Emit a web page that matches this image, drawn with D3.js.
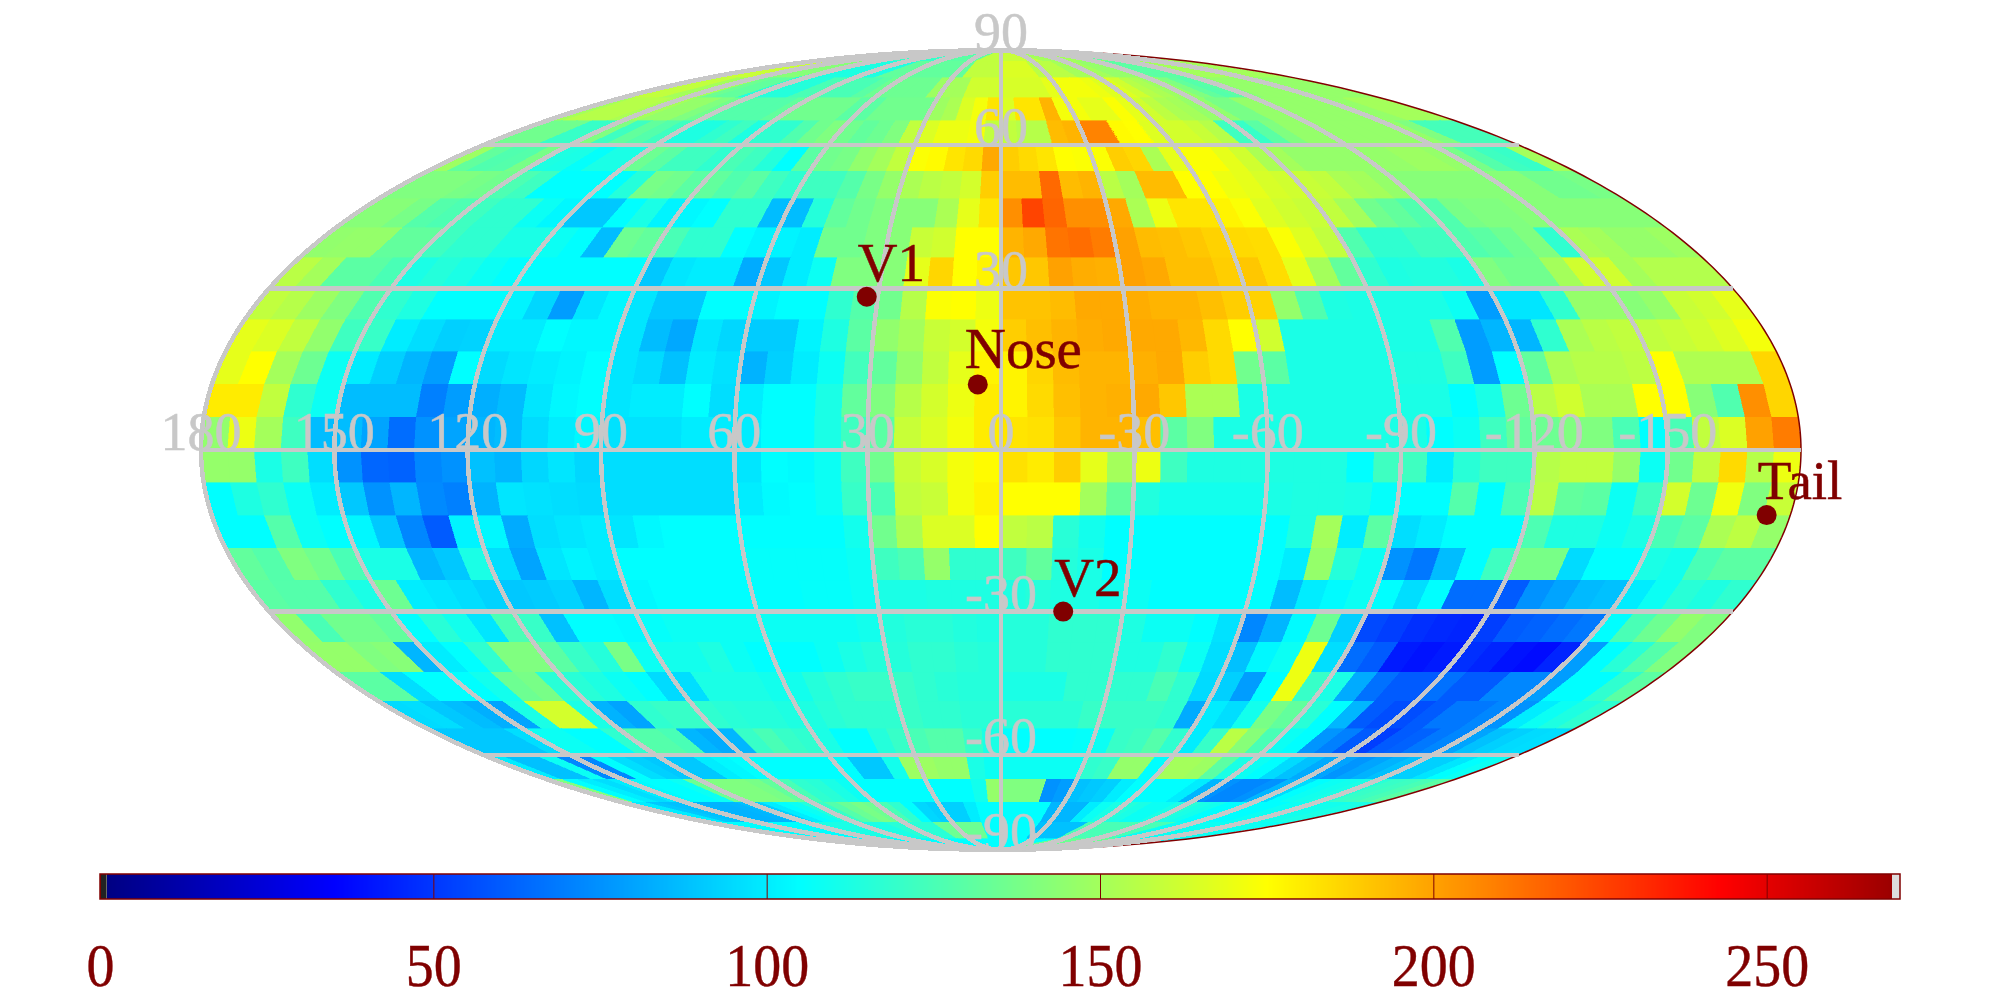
<!DOCTYPE html>
<html><head><meta charset="utf-8">
<script src="https://cdn.jsdelivr.net/npm/d3@7"></script>
<style>html,body{margin:0;padding:0;background:#fff}svg{display:block}text{font-family:"Liberation Serif",serif}</style>
</head><body><svg id="c" width="2000" height="1000"></svg>
<script>
// Sky-map values: one row per 6 deg latitude band, 60 columns from lon 180 to lon -180.
const n87=[148,148,148,148,120,120,120,120,120,120,120,120,120,120,120,120,120,120,120,120,130,130,130,130,130,130,158,158,158,158,160,160,160,160,160,160,160,150,150,150,150,150,150,150,150,150,150,150,132,132,132,132,132,132,132,132,150,150,150,150];
const n81=[160,160,160,160,160,142,142,142,142,113,113,113,113,113,113,113,113,132,132,132,132,132,132,132,132,132,158,158,158,158,165,165,165,165,156,156,156,156,150,150,150,150,146,146,146,146,130,130,130,130,130,150,150,150,150,150,150,150,150,150];
const n75=[158,158,158,150,150,150,135,132,132,115,115,115,115,125,125,125,125,125,130,135,135,135,135,135,148,150,150,162,162,162,164,164,164,164,168,172,172,172,170,166,166,162,155,152,148,146,140,132,128,130,142,146,146,146,146,146,146,146,146,146];
const n69=[150,155,155,155,152,150,146,146,140,136,128,128,128,128,132,136,136,136,136,130,130,136,136,136,136,148,152,165,172,182,165,182,182,195,172,172,168,168,174,168,162,157,152,150,146,145,138,138,146,146,146,146,146,146,146,146,146,150,150,150];
const n63=[136,136,136,120,120,140,122,132,128,122,113,113,118,122,113,118,118,127,136,140,136,132,135,140,158,165,170,170,172,158,158,155,155,193,195,208,208,176,175,166,163,163,160,155,122,120,130,140,146,146,146,146,146,146,146,146,140,124,124,124];
const n57=[148,132,127,128,138,113,112,106,112,112,135,130,122,122,118,125,122,115,105,130,136,138,145,150,158,174,176,182,185,198,188,185,182,175,174,174,188,186,152,168,174,174,168,162,152,150,146,146,146,146,146,146,148,148,146,138,128,122,120,150];
const n51=[140,140,140,138,136,126,122,105,105,105,105,115,138,136,130,132,127,130,122,118,122,122,128,138,146,152,156,158,163,188,193,193,215,193,195,156,150,193,193,175,175,170,168,164,162,160,158,152,150,146,142,142,142,142,142,142,142,136,136,138];
const n45=[142,142,138,128,126,122,118,118,108,103,90,90,105,112,102,103,105,118,118,87,87,115,132,136,140,142,142,152,168,182,205,225,216,205,205,198,152,170,182,182,178,174,166,162,160,158,150,136,132,127,127,138,140,140,142,142,142,142,142,142];
const n39=[145,146,146,132,132,122,118,118,112,112,108,105,87,135,132,125,118,118,105,102,102,100,136,136,140,142,160,162,175,175,195,198,212,214,210,200,193,192,190,187,185,184,174,166,158,127,118,118,122,122,127,130,135,140,118,152,150,146,146,148];
const n33=[156,150,130,130,125,112,115,112,108,105,105,105,105,105,105,90,98,100,100,82,90,100,108,140,140,142,168,186,175,178,190,190,200,197,196,200,198,192,192,188,190,184,168,150,132,118,113,114,114,112,140,136,136,150,162,162,150,154,154,154];
const n27=[158,155,148,140,127,118,113,105,105,105,102,94,78,98,103,98,90,90,105,105,102,105,105,118,128,136,155,174,175,170,191,191,193,198,198,197,195,195,192,188,187,146,127,113,112,112,112,112,108,78,98,98,118,146,146,142,146,160,162,168];
const n21=[168,165,158,145,122,120,100,96,92,93,100,100,105,103,103,98,87,81,98,94,91,91,102,113,130,145,150,160,163,172,188,192,195,197,198,198,198,194,185,175,162,112,112,112,112,112,112,127,78,85,85,118,152,156,158,158,160,162,166,172];
const n15=[168,175,150,135,108,100,92,85,78,105,95,98,100,102,105,98,95,88,100,97,84,92,100,108,123,132,146,158,168,178,178,186,193,195,195,196,198,188,185,136,130,112,112,112,112,113,113,122,78,105,132,152,155,155,157,175,153,153,153,186];
const n09=[180,180,158,118,108,87,87,87,70,78,83,87,98,103,105,98,100,100,105,96,100,105,105,112,132,140,155,163,170,180,178,185,192,195,196,198,190,152,152,112,112,112,112,112,112,112,112,105,112,135,156,162,152,152,175,175,142,127,205,186];
const n03=[145,170,150,122,87,87,80,65,75,80,85,87,95,100,103,97,97,97,100,100,100,105,105,112,122,130,160,165,172,180,182,183,190,195,195,192,130,140,112,112,112,112,112,112,112,112,105,108,122,132,135,140,140,125,105,125,158,165,200,210];
const s03=[146,146,112,122,96,75,63,62,72,75,88,85,94,98,94,96,96,96,96,96,98,105,104,108,122,136,160,164,172,176,183,180,188,168,150,170,122,113,113,113,113,113,113,105,122,122,100,116,122,122,155,158,158,146,108,136,158,185,155,170];
const s09=[105,113,118,108,100,90,75,85,73,70,84,98,97,96,95,96,96,96,96,96,100,104,105,108,120,125,158,160,172,178,175,175,175,150,132,114,110,110,110,110,112,113,113,112,106,105,105,128,105,125,156,132,130,108,122,163,135,171,140,160];
const s15=[105,105,128,108,105,103,90,72,60,102,103,82,96,98,100,98,103,105,105,105,105,105,105,105,110,136,152,165,165,175,158,156,116,110,105,105,105,105,105,105,105,113,150,100,130,96,100,105,105,105,126,113,113,108,112,125,130,152,157,146];
const s21=[132,128,140,136,125,112,112,85,90,112,96,80,98,102,100,105,105,105,105,105,106,106,106,106,108,122,126,146,118,118,122,132,115,112,105,105,105,105,105,105,105,100,146,115,108,75,68,87,105,122,138,138,95,105,105,112,110,125,130,130];
const s27=[130,128,128,118,112,135,100,98,96,93,90,91,93,85,96,103,105,105,105,105,105,105,106,106,108,112,112,113,113,113,113,115,113,112,110,108,105,105,105,105,105,87,100,104,108,105,96,105,65,65,60,75,80,86,88,100,108,116,113,118];
const s33=[145,125,136,136,132,105,116,110,98,125,120,88,105,105,104,106,108,108,108,108,108,108,108,108,110,114,116,116,114,113,115,115,118,118,118,113,108,108,105,97,72,85,104,135,92,55,52,48,46,45,52,60,62,65,68,105,125,135,145,140];
const s39=[146,146,140,142,85,100,105,118,140,140,130,120,115,138,108,110,110,113,108,105,105,105,108,112,115,115,118,118,116,115,115,115,118,118,118,113,113,118,108,96,88,103,108,170,96,65,60,42,40,42,48,45,40,38,45,78,105,116,128,140];
const s45=[130,130,96,105,105,105,110,135,138,116,116,113,108,105,95,96,112,112,112,110,110,115,118,120,120,120,118,116,115,115,112,112,112,118,118,118,118,125,118,95,92,78,105,170,120,112,82,66,60,60,66,60,60,72,72,78,105,105,118,130];
const s51=[95,96,90,87,83,80,112,163,163,112,84,80,118,120,120,118,116,115,115,113,113,116,118,118,118,120,118,118,116,116,116,116,116,116,120,120,120,120,118,82,100,96,110,138,132,116,105,85,60,56,56,60,68,68,72,75,100,108,113,118];
const s57=[90,90,90,90,96,108,108,105,105,118,128,128,125,85,82,85,120,125,120,118,112,105,105,115,120,125,128,128,120,112,105,105,105,105,106,108,120,122,128,118,100,120,156,142,125,108,105,76,70,60,52,60,62,68,72,80,88,92,95,96];
const s63=[100,88,88,108,72,72,105,96,92,90,90,90,100,103,105,105,105,105,105,105,105,90,90,110,148,148,146,146,112,108,108,108,108,108,108,118,120,146,146,105,150,150,148,130,112,108,105,95,88,82,80,76,80,84,88,92,92,98,105,108];
const s69=[140,105,100,96,100,104,105,105,108,135,140,140,140,138,132,125,118,116,112,108,105,105,105,105,105,105,105,105,110,146,140,140,140,75,78,88,90,92,100,105,105,105,105,100,85,75,72,72,75,85,95,105,108,110,112,116,120,122,125,130];
const s75=[100,100,90,88,88,85,84,84,85,88,92,100,105,108,115,120,128,134,138,135,125,118,105,94,92,92,92,100,105,105,105,105,105,105,85,85,85,100,108,112,115,112,108,108,112,116,112,110,105,105,105,105,105,108,108,108,110,110,112,112];
const s81=[105,105,105,105,105,105,105,105,105,105,112,112,112,112,112,112,112,112,116,116,116,116,116,135,135,135,135,135,105,105,105,105,105,105,88,88,88,88,88,125,125,125,125,125,125,125,125,125,108,108,108,108,108,108,108,108,108,108,108,108];
const s87=[105,105,105,105,105,105,105,105,105,105,105,105,105,105,105,105,105,105,105,105,105,105,105,105,105,105,105,105,105,105,105,105,105,105,105,105,105,105,105,135,135,135,135,135,135,135,135,135,135,135,135,105,105,105,105,105,105,105,105,105];
const rows=[n87,n81,n75,n69,n63,n57,n51,n45,n39,n33,n27,n21,n15,n09,n03,s03,s09,s15,s21,s27,s33,s39,s45,s51,s57,s63,s69,s75,s81,s87];

const meridians=[180,150,120,90,60,30,0,-30,-60,-90,-120,-150];
const parallels=[60,30,0,-30,-60];
const latLabels=[90,60,30,-30,-60,-90];
const lonLabels=[180,150,120,90,60,30,0,-30,-60,-90,-120,-150];
const barTicks=[0,50,100,150,200,250];
const markerNames=["V1","Nose","V2","Tail"];
const markerLon=[32.7,5.3,-15.3,-174.6];
const markerLat=[28.4,12,-30,-11.9];

// Mollweide raw projection for d3.geoProjection
function mollweideRaw(l,p){
  let t=p; const target=Math.PI*Math.sin(p);
  if(Math.abs(Math.abs(p)-Math.PI/2)>=1e-9)
    for(let i=0;i<50;i++){const d=(2*t+Math.sin(2*t)-target)/(2+2*Math.cos(2*t));t-=d;if(Math.abs(d)<1e-9)break;}
  return [2*Math.SQRT2/Math.PI*l*Math.cos(t),Math.SQRT2*Math.sin(t)];
}
const proj=d3.geoProjection(mollweideRaw).scale(400/Math.SQRT2).translate([1001,450]).precision(0.1);
const P=(lon,lat)=>proj([-lon,lat]); // longitude runs from +180 on the left to -180 on the right

const color=d3.scaleLinear().domain([0,35,105,175,243,276])
  .range(["#00007f","#0000ff","#00ffff","#ffff00","#ff0000","#7f0000"]).clamp(true);
const svg=d3.select("#c");
const line=d3.line();

// cells
const cells=[];
rows.forEach((r,ri)=>r.forEach((v,ci)=>cells.push({lat0:90-6*ri,lat1:84-6*ri,lon0:180-6*ci,lon1:174-6*ci,v})));
svg.append("g").attr("shape-rendering","crispEdges").selectAll("path").data(cells).join("path")
  .attr("d",c=>line([P(c.lon0,c.lat0),P(c.lon1,c.lat0),P(c.lon1,c.lat1),P(c.lon0,c.lat1)])+"Z")
  .attr("fill",c=>color(c.v)).attr("stroke",c=>color(c.v)).attr("stroke-width",0.6);

// outline
const lats=d3.range(-90,90.01,1);
svg.append("path").attr("d",line(lats.map(a=>P(-180,a)))).attr("fill","none").attr("stroke","#800000").attr("stroke-width",1.5);

// grid
const grid=svg.append("g").attr("fill","none").attr("stroke","#c8c8c8").attr("stroke-width",4.5).attr("shape-rendering","crispEdges");
grid.selectAll("path.m").data(meridians).join("path").attr("class","m")
  .attr("d",m=>line(lats.map(a=>P(m,a))));
grid.selectAll("path.p").data(parallels).join("path").attr("class","p")
  .attr("d",a=>line([P(180,a),P(-180,a)]));

// grid labels
const lab=svg.append("g").attr("fill","#c8c8c8").attr("stroke","#c8c8c8").attr("stroke-width",0.5).attr("font-size",54).attr("text-anchor","middle");
lab.selectAll("text.lo").data(lonLabels).join("text").attr("class","lo")
  .attr("x",d=>P(d,0)[0]).attr("y",P(0,0)[1]).text(d=>d);
lab.selectAll("text.la").data(latLabels).join("text").attr("class","la")
  .attr("x",P(0,0)[0]).attr("y",d=>P(0,d)[1]).text(d=>d);

// markers
const mk=svg.append("g");
const mdata=markerNames.map((n,i)=>({n,lon:markerLon[i],lat:markerLat[i]}));
mk.selectAll("circle").data(mdata).join("circle")
  .attr("cx",d=>P(d.lon,d.lat)[0]).attr("cy",d=>P(d.lon,d.lat)[1]).attr("r",10).attr("fill","#800000");
mk.selectAll("text").data(mdata).join("text")
  .attr("x",d=>P(d.lon,d.lat)[0]-(d.n==="Nose"?13:9)).attr("y",d=>P(d.lon,d.lat)[1]-16)
  .attr("font-size",d=>d.n==="Nose"?57:55).attr("fill","#800000").attr("stroke","#800000").attr("stroke-width",0.5).text(d=>d.n);

// colour bar
const bx=d3.scaleLinear().domain([0,270]).range([100,1900]);
const bar=svg.append("g");
bar.selectAll("rect").data(d3.range(1,268.8,0.2)).join("rect").attr("shape-rendering","crispEdges")
  .attr("x",v=>bx(v)).attr("y",874).attr("width",2).attr("height",25).attr("fill",v=>color(v));
bar.append("rect").attr("x",bx(0)).attr("y",874).attr("width",bx(1)-bx(0)).attr("height",25).attr("fill","#222");
bar.append("rect").attr("x",bx(268.8)).attr("y",874).attr("width",bx(270)-bx(268.8)).attr("height",25).attr("fill","#ddd");
bar.append("rect").attr("x",100).attr("y",874).attr("width",1800).attr("height",25).attr("fill","none").attr("stroke","#800000").attr("stroke-width",1.5);
const ax=svg.append("g").attr("transform","translate(0,899)")
  .call(d3.axisBottom(bx).tickValues(barTicks).tickSizeInner(-25).tickSizeOuter(0).tickFormat(d3.format("d")));
ax.select(".domain").remove();
ax.selectAll("line").attr("stroke","#800000").attr("stroke-width",1);
ax.selectAll("text").attr("y",0).attr("dy",0).attr("transform","translate(0,87) scale(1,1.08)")
  .attr("font-size",56).attr("fill","#800000").attr("stroke","#800000").attr("stroke-width",0.4)
  .attr("font-family","Liberation Serif");
</script></body></html>
